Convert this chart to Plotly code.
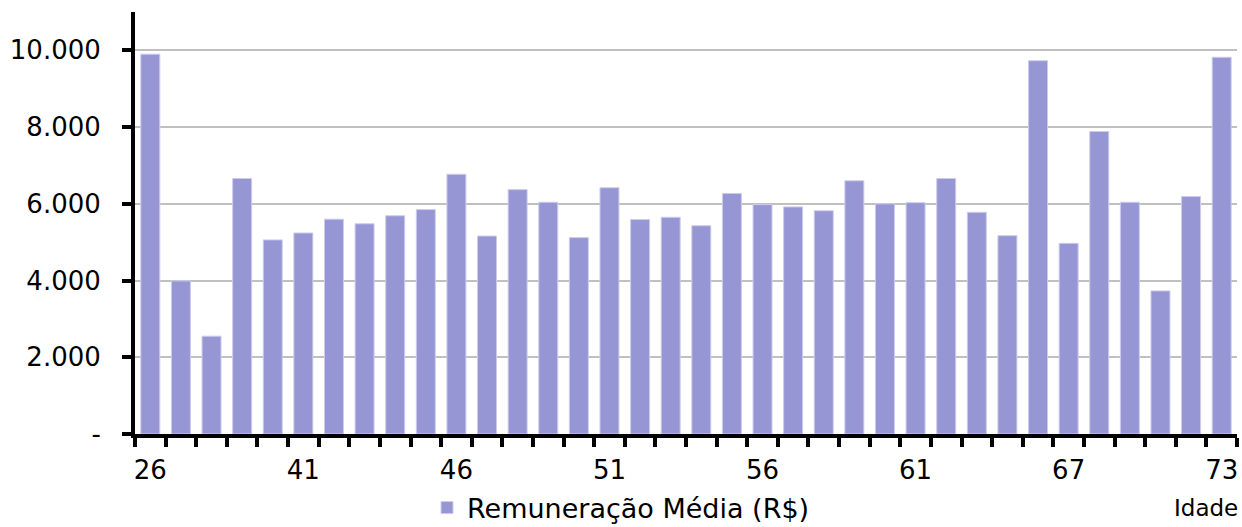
import plotly.graph_objects as go

# ages (x categories) and average pay per age
idades = ['26', '37', '38', '39', '40', '41', '42', '43', '44', '45',
          '46', '47', '48', '49', '50', '51', '52', '53', '54', '55',
          '56', '57', '58', '59', '60', '61', '62', '63', '64', '65',
          '67', '68', '69', '70', '71', '73']
remuneracao = [9900, 3990, 2550, 6660, 5060, 5240, 5600, 5480, 5690, 5850,
               6770, 5160, 6370, 6040, 5120, 6420, 5590, 5650, 5430, 6270,
               5980, 5920, 5820, 6600, 6000, 6030, 6660, 5780, 5170, 9730,
               4970, 7885, 6040, 3730, 6190, 9820]

rotulos_x = [c if i % 5 == 0 else '' for i, c in enumerate(idades)]
valores_y = [0, 2000, 4000, 6000, 8000, 10000]
rotulos_y = ['-', '2.000', '4.000', '6.000', '8.000', '10.000']

FONTE = 'DejaVu Sans, Liberation Sans, sans-serif'

trace = go.Bar(
    x=idades,
    y=remuneracao,
    name='Remuneração Média (R$)',
    marker=dict(color='rgb(151,150,212)', line=dict(color='rgb(205,204,236)', width=1)),
)

layout = go.Layout(
    width=1242,
    height=527,
    margin=dict(l=135, r=5, t=12, b=93),
    paper_bgcolor='white',
    plot_bgcolor='white',
    font=dict(family=FONTE, size=26, color='black'),
    bargap=0.38,
    showlegend=True,
    legend=dict(orientation='h', xref='container', yref='container',
                x=0.5, xanchor='center', y=0.036, yanchor='middle',
                font=dict(size=27), itemwidth=30, bgcolor='rgba(0,0,0,0)'),
    xaxis=dict(
        type='category',
        tickvals=idades,
        ticktext=rotulos_x,
        tickson='boundaries',
        tickangle=0,
        ticks='outside',
        ticklen=9,
        tickwidth=4,
        tickcolor='black',
        showline=True,
        linecolor='black',
        linewidth=4,
        showgrid=False,
        ticklabelstandoff=10,
        automargin=False,
    ),
    yaxis=dict(
        range=[0, 11000],
        tickvals=valores_y,
        ticktext=rotulos_y,
        ticks='outside',
        ticklen=9,
        tickwidth=4,
        tickcolor='black',
        showline=True,
        linecolor='black',
        linewidth=4,
        showgrid=True,
        gridcolor='rgb(192,192,192)',
        gridwidth=2,
        zeroline=False,
        ticklabelstandoff=16,
        automargin=False,
    ),
    annotations=[dict(text='Idade', xref='paper', yref='paper', x=1.003, y=-0.175,
                      xanchor='right', yanchor='middle', showarrow=False,
                      font=dict(size=23))],
)

fig = go.Figure(data=[trace], layout=layout)
# page body has a default 8px margin; drop it so the figure fills the window
fig.write_html("out.html", config={'displayModeBar': False},
               post_script="document.body.style.margin='0px';")
